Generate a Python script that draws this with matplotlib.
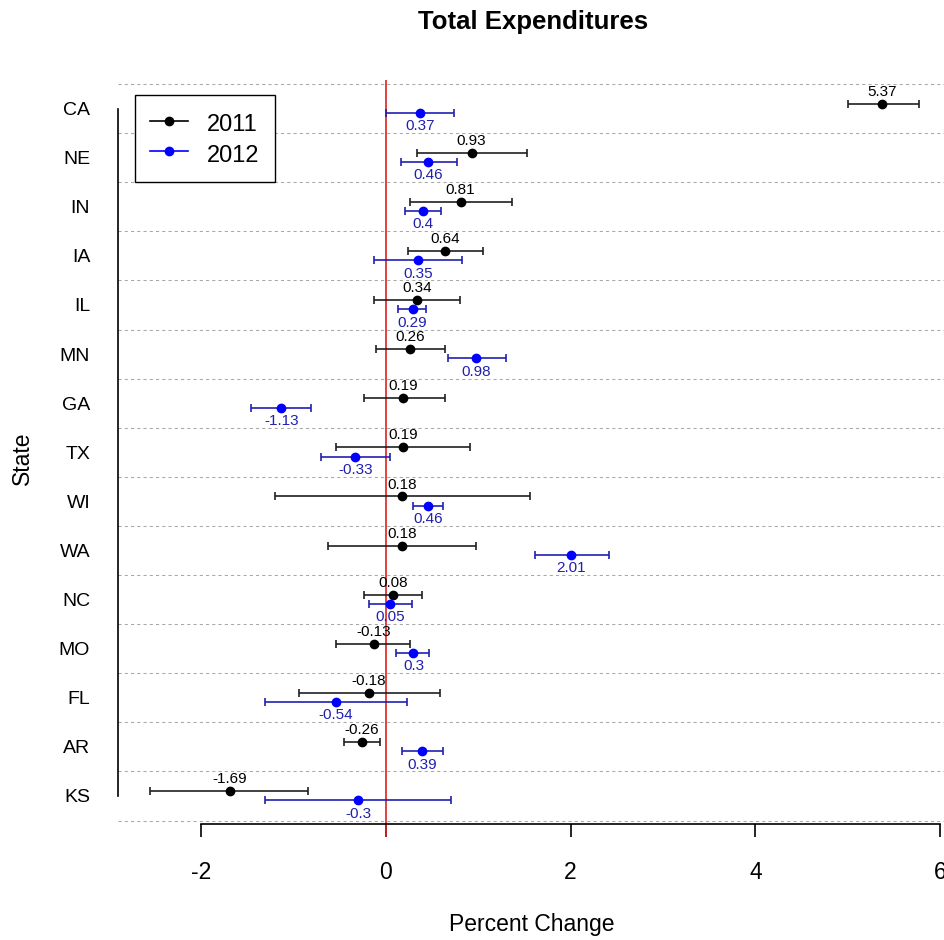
"""Total Expenditures: percent change by state, 2011 vs 2012, with intervals."""

import matplotlib
matplotlib.use("Agg")
import matplotlib.pyplot as plt
from matplotlib.lines import Line2D
import numpy as np

plt.rcParams.update({
    "font.family": "Liberation Sans",
})

# ---------------------------------------------------------------------------
# Data
# ---------------------------------------------------------------------------

states = ["CA", "NE", "IN", "IA", "IL", "MN", "GA", "TX", "WI", "WA",
          "NC", "MO", "FL", "AR", "KS"]

est_2011 = [5.37, 0.93, 0.81, 0.64, 0.34, 0.26, 0.19, 0.19, 0.18, 0.18,
            0.08, -0.13, -0.18, -0.26, -1.69]
lo_2011 = [5.00, 0.34, 0.26, 0.24, -0.13, -0.11, -0.24, -0.54, -1.20, -0.62,
           -0.23, -0.54, -0.94, -0.45, -2.55]
hi_2011 = [5.77, 1.53, 1.37, 1.05, 0.80, 0.64, 0.64, 0.91, 1.56, 0.98,
           0.39, 0.26, 0.59, -0.06, -0.84]

est_2012 = [0.37, 0.46, 0.40, 0.35, 0.29, 0.98, -1.13, -0.33, 0.46, 2.01,
            0.05, 0.30, -0.54, 0.39, -0.30]
lo_2012 = [0.00, 0.16, 0.21, -0.13, 0.13, 0.67, -1.46, -0.70, 0.29, 1.61,
           -0.18, 0.11, -1.31, 0.18, -1.31]
hi_2012 = [0.74, 0.77, 0.60, 0.83, 0.44, 1.30, -0.81, 0.05, 0.62, 2.42,
           0.28, 0.47, 0.23, 0.62, 0.71]

x_ticks = [-2, 0, 2, 4, 6]

BLACK = "black"
BLUE_PT = "#0000ff"
BLUE = "#2020b0"

# ---------------------------------------------------------------------------
# Figure
# ---------------------------------------------------------------------------

W, H = 945, 940
fig = plt.figure(figsize=(W / 100, H / 100), dpi=100)
left, right, top, bottom = 118, 945, 80, 837
ax = fig.add_axes([left / W, 1 - bottom / H, (right - left) / W, (bottom - top) / H])

rows = np.arange(len(states))
y11 = rows - 0.10
y12 = rows + 0.09

# row separators
for r in np.arange(len(states) + 1) - 0.5:
    ax.axhline(r, color="#a8a8a8", lw=0.75, ls=(0, (3, 3)), zorder=1)

ax.axvline(0, color="#e02020", lw=1.2, zorder=2)

e11 = np.array(est_2011)
e12 = np.array(est_2012)
ax.errorbar(e11, y11, xerr=[e11 - np.array(lo_2011), np.array(hi_2011) - e11],
            fmt="o", color=BLACK, ecolor="#202020", ms=6, elinewidth=1.2,
            capsize=3.2, capthick=1.2, zorder=3)
ax.errorbar(e12, y12, xerr=[e12 - np.array(lo_2012), np.array(hi_2012) - e12],
            fmt="o", color=BLUE_PT, ecolor=BLUE, ms=6, elinewidth=1.2,
            capsize=3.2, capthick=1.2, zorder=3)

for v, y in zip(est_2011, y11):
    ax.annotate(f"{v:g}", (v, y), xytext=(0, 3.5), textcoords="offset points",
                ha="center", va="bottom", fontsize=11, color=BLACK)
for v, y in zip(est_2012, y12):
    ax.annotate(f"{v:g}", (v, y), xytext=(0, -4.5), textcoords="offset points",
                ha="center", va="top", fontsize=11, color=BLUE)

ax.set_xlim((left - 385.75) / 92.4, (right - 385.75) / 92.4)
ax.set_ylim((bottom - 108.55) / 49.1, (top - 108.55) / 49.1)

# axes styling, R base-graphics look
for s in ("top", "right"):
    ax.spines[s].set_visible(False)
ax.spines["left"].set_bounds(0, len(states) - 1)
ax.spines["left"].set_linewidth(1.2)
ax.spines["bottom"].set_position(("axes", 13 / (bottom - top)))
ax.spines["bottom"].set_bounds(x_ticks[0], x_ticks[-1])
ax.spines["bottom"].set_linewidth(1.2)

ax.set_yticks(rows)
ax.set_yticklabels(states, fontsize=14)
ax.tick_params(axis="y", length=0, pad=20)
ax.set_xticks(x_ticks)
ax.set_xticklabels([str(t) for t in x_ticks], fontsize=16.5)
ax.tick_params(axis="x", length=9.4, width=1.2, pad=17, direction="out")

ax.set_xlabel("Percent Change", fontsize=16.5)
ax.xaxis.set_label_coords(0.5, -(925 - bottom) / (bottom - top))
ax.xaxis.label.set_va("center")
ax.set_ylabel("State", fontsize=16.5)
ax.yaxis.set_label_coords(-(left - 22) / (right - left), 0.5)
ax.yaxis.label.set_va("center")

fig.text(533 / W, 1 - 22 / H, "Total Expenditures", ha="center", va="center",
         fontsize=18.5, fontweight="bold")

handles = [
    Line2D([], [], color=BLACK, marker="o", ms=6, lw=1.2),
    Line2D([], [], color=BLUE_PT, marker="o", ms=6, lw=1.2),
]
leg = ax.legend(handles, ["2011", "2012"], loc="upper left",
                bbox_to_anchor=((135 - left) / (right - left), 1 - (95 - top) / (bottom - top)),
                borderaxespad=0, fontsize=17, fancybox=False, framealpha=1,
                edgecolor="black", handlelength=1.6, handletextpad=0.8,
                handleheight=1.3, labelspacing=0.2, borderpad=0.65)
leg.get_frame().set_linewidth(1.0)

fig.savefig("out.png", dpi=100)
